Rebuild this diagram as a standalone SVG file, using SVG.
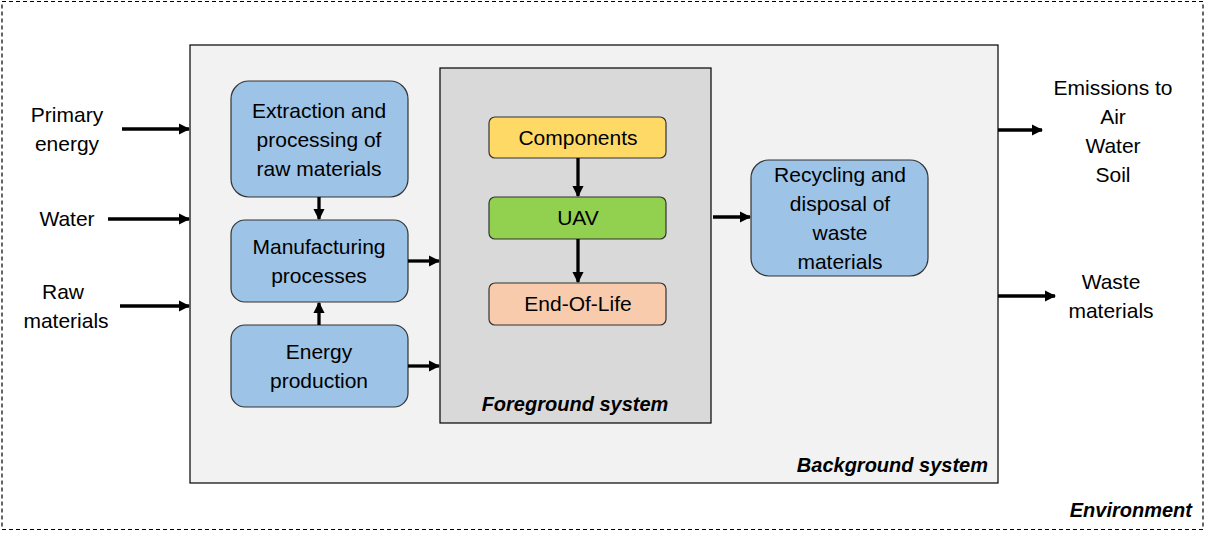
<svg xmlns="http://www.w3.org/2000/svg" width="1208" height="538" viewBox="0 0 1208 538">
<defs>
<marker id="ah" viewBox="0 0 10 10" refX="9" refY="5" markerWidth="3.4" markerHeight="3.4" orient="auto" markerUnits="strokeWidth">
<path d="M0,0 L10,5 L0,10 z" fill="#000"/>
</marker>
<style>
text{font-family:"Liberation Sans",Arial,sans-serif;font-size:21px;fill:#000;text-anchor:middle}
.lbl{font-weight:bold;font-style:italic;font-size:20px}
.proc{fill:#9dc3e6;stroke:#333;stroke-width:1.2}
.con line{stroke:#000;stroke-width:3.3;marker-end:url(#ah)}
</style>
</defs>
<rect width="1208" height="538" fill="#fff"/>
<g id="environment">
<rect x="2" y="1.5" width="1201" height="528" fill="none" stroke="#000" stroke-width="1.2" stroke-dasharray="4,3"/>
<text class="lbl" x="1192" y="517" style="text-anchor:end">Environment</text>
</g>
<g id="background">
<rect x="190" y="45" width="808" height="438" fill="#f2f2f2" stroke="#000" stroke-width="1.2"/>
<text class="lbl" x="988" y="472" style="text-anchor:end">Background system</text>
</g>
<g id="foreground">
<rect x="440" y="68" width="271" height="355" fill="#d9d9d9" stroke="#000" stroke-width="1.2"/>
<text class="lbl" x="575" y="411">Foreground system</text>
</g>
<g id="extraction">
<rect class="proc" x="231" y="81" width="177" height="116" rx="18"/>
<text x="319" y="118">Extraction and</text>
<text x="319" y="147">processing of</text>
<text x="319" y="176">raw materials</text>
</g>
<g id="manufacturing">
<rect class="proc" x="231" y="220" width="177" height="82" rx="14"/>
<text x="319" y="254">Manufacturing</text>
<text x="319" y="283">processes</text>
</g>
<g id="energy">
<rect class="proc" x="231" y="325" width="177" height="82" rx="14"/>
<text x="319" y="359">Energy</text>
<text x="319" y="388">production</text>
</g>
<g id="components">
<rect x="489" y="117" width="177" height="41" rx="6" fill="#ffd966" stroke="#333" stroke-width="1.2"/>
<text x="578" y="145">Components</text>
</g>
<g id="uav">
<rect x="489" y="197" width="177" height="42" rx="6" fill="#92d050" stroke="#333" stroke-width="1.2"/>
<text x="578" y="225">UAV</text>
</g>
<g id="endoflife">
<rect x="489" y="283" width="177" height="42" rx="6" fill="#f8cbad" stroke="#333" stroke-width="1.2"/>
<text x="578" y="311">End-Of-Life</text>
</g>
<g id="recycling">
<rect class="proc" x="751" y="160" width="177" height="116" rx="18"/>
<text x="840" y="182">Recycling and</text>
<text x="840" y="211">disposal of</text>
<text x="840" y="240">waste</text>
<text x="840" y="269">materials</text>
</g>
<g id="primary-energy">
<text x="67" y="122">Primary</text>
<text x="67" y="151">energy</text>
</g>
<g id="water">
<text x="67" y="226">Water</text>
</g>
<g id="raw-materials">
<text x="63" y="299">Raw</text>
<text x="66" y="328">materials</text>
</g>
<g id="emissions">
<text x="1113" y="95">Emissions to</text>
<text x="1113" y="124">Air</text>
<text x="1113" y="153">Water</text>
<text x="1113" y="182">Soil</text>
</g>
<g id="waste">
<text x="1111" y="289">Waste</text>
<text x="1111" y="318">materials</text>
</g>
<g class="con" id="connectors">
<line x1="122" y1="129" x2="189" y2="129"/>
<line x1="108" y1="219" x2="189" y2="219"/>
<line x1="120" y1="306" x2="189" y2="306"/>
<line x1="319" y1="197" x2="319" y2="219"/>
<line x1="319" y1="325" x2="319" y2="303"/>
<line x1="408" y1="261" x2="439" y2="261"/>
<line x1="408" y1="366" x2="439" y2="366"/>
<line x1="713" y1="217" x2="750" y2="217"/>
<line x1="578" y1="158" x2="578" y2="196"/>
<line x1="578" y1="239" x2="578" y2="282"/>
<line x1="998" y1="130" x2="1042" y2="130"/>
<line x1="998" y1="296" x2="1055" y2="296"/>
</g>
</svg>
